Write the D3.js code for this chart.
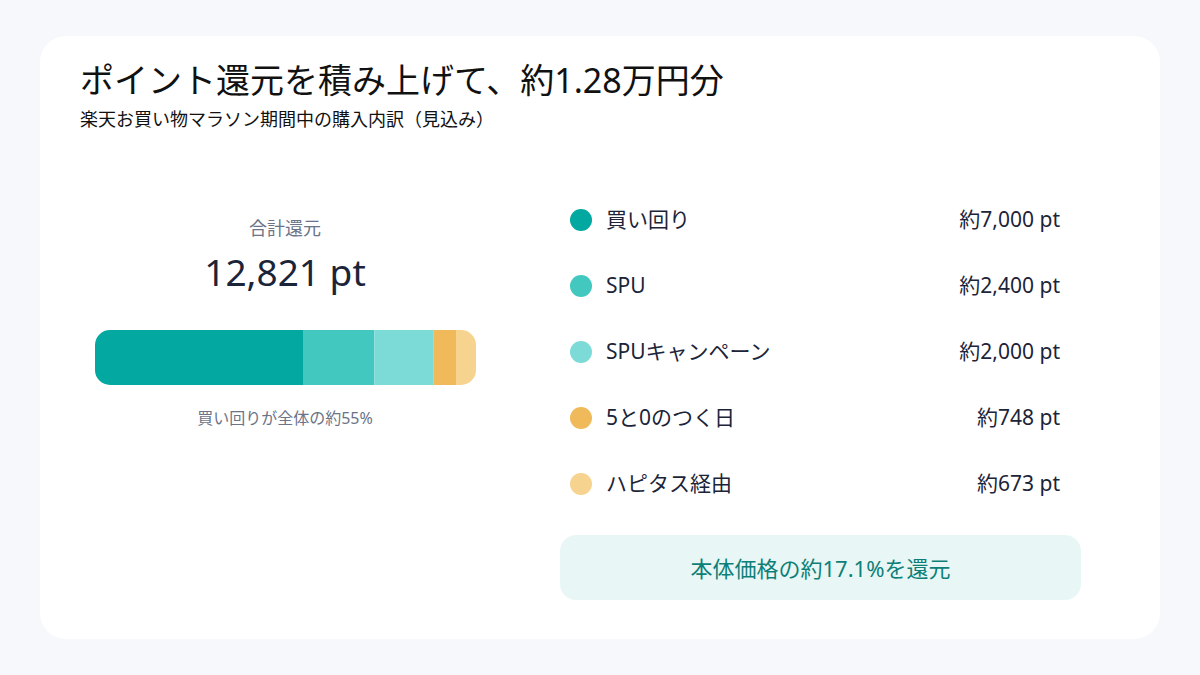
<!DOCTYPE html>
<html lang="ja">
<head>
    <meta charset="UTF-8">
    <script src="https://d3js.org/d3.v7.min.js"></script>
    <style>
        body {margin: 0; background-color: #f7f8fc}
        svg {display: block}
        text {font-family: "Noto Sans", "Noto Sans CJK JP", sans-serif}
    </style>
</head>
<body>
<svg class="chart"></svg>
<script type="text/javascript">
    // data
    const categories = ['買い回り', 'SPU', 'SPUキャンペーン', '5と0のつく日', 'ハピタス経由'];
    const points = [7000, 2400, 2000, 748, 673];
    const valueLabels = ['約7,000 pt', '約2,400 pt', '約2,000 pt', '約748 pt', '約673 pt'];
    const colors = ['#03a9a1', '#43c8c0', '#7ddbd7', '#f0b95a', '#f6d38e'];

    const title = 'ポイント還元を積み上げて、約1.28万円分';
    const subtitle = '楽天お買い物マラソン期間中の購入内訳（見込み）';
    const totalLabel = '合計還元';
    const totalText = '12,821 pt';
    const shareText = '買い回りが全体の約55%';
    const rateText = '本体価格の約17.1%を還元';

    const width = 1200, height = 675;
    const svg = d3.select('.chart').attr('width', width).attr('height', height);

    // card
    svg.append('rect').attr('x', 40).attr('y', 36).attr('width', 1120).attr('height', 603)
        .attr('rx', 26).attr('fill', '#ffffff');

    svg.append('text').attr('x', 80).attr('y', 93).attr('font-size', 34).attr('fill', '#111111').text(title);
    svg.append('text').attr('x', 80).attr('y', 126).attr('font-size', 18).attr('fill', '#111111').text(subtitle);

    // left: total + stacked bar
    const cx = 285;
    svg.append('text').attr('x', cx).attr('y', 235).attr('text-anchor', 'middle')
        .attr('font-size', 18).attr('fill', '#6b7488').text(totalLabel);
    svg.append('text').attr('x', cx).attr('y', 286).attr('text-anchor', 'middle')
        .attr('font-size', 37).attr('fill', '#1b2438').text(totalText);

    const total = d3.sum(points);
    const x = d3.scaleLinear().domain([0, total]).range([95, 476]);
    const stackData = [];
    let acc = 0;
    points.forEach(function (v, i) {
        stackData.push({start: acc, end: acc + v, color: colors[i]});
        acc += v;
    });

    const barY = 330, barH = 55;
    svg.append('clipPath').attr('id', 'barClip')
        .append('rect').attr('x', x(0)).attr('y', barY).attr('width', x(total) - x(0)).attr('height', barH).attr('rx', 15);

    svg.append('g').attr('clip-path', 'url(#barClip)')
        .selectAll('rect')
        .data(stackData)
        .enter()
        .append('rect')
        .attr('x', function (d) { return x(d.start); })
        .attr('y', barY)
        .attr('width', function (d) { return x(d.end) - x(d.start); })
        .attr('height', barH)
        .attr('fill', function (d) { return d.color; });

    svg.append('text').attr('x', cx).attr('y', 424).attr('text-anchor', 'middle')
        .attr('font-size', 16).attr('fill', '#6b7488').text(shareText);

    // right: legend rows
    const y = d3.scalePoint().domain(categories).range([220, 484]);
    const rows = svg.append('g').selectAll('g')
        .data(categories)
        .enter()
        .append('g')
        .attr('transform', function (d) { return 'translate(0,' + y(d) + ')'; });

    rows.append('circle').attr('cx', 581).attr('cy', 0).attr('r', 11)
        .attr('fill', function (d, i) { return colors[i]; });
    rows.append('text').attr('x', 606).attr('dy', '0.35em').attr('font-size', 21).attr('fill', '#1b2438')
        .text(function (d) { return d; });
    rows.append('text').attr('x', 1060).attr('dy', '0.35em').attr('text-anchor', 'end')
        .attr('font-size', 21).attr('fill', '#1b2438')
        .text(function (d, i) { return valueLabels[i]; });

    // rate box
    svg.append('rect').attr('x', 560).attr('y', 535).attr('width', 521).attr('height', 65)
        .attr('rx', 16).attr('fill', '#e8f7f6');
    svg.append('text').attr('x', 820.5).attr('y', 569).attr('dy', '0.35em').attr('text-anchor', 'middle')
        .attr('font-size', 22).attr('fill', '#0e7f78').text(rateText);
</script>
</body>
</html>
